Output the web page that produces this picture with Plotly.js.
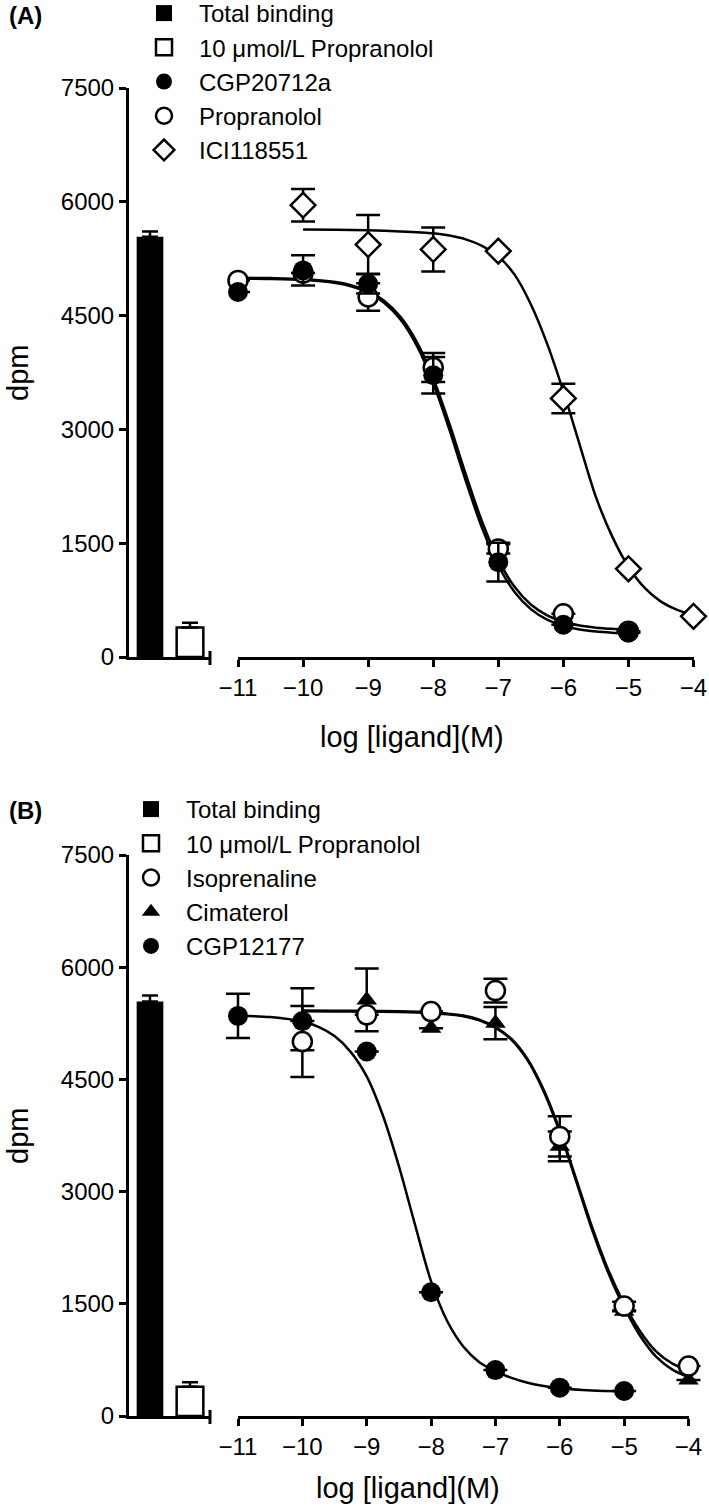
<!DOCTYPE html>
<html><head><meta charset="utf-8">
<script src="https://cdn.plot.ly/plotly-3.0.1.min.js"></script>
<style>html,body{margin:0;padding:0;background:#fff}</style>
</head><body><div id="chart" style="width:709px;height:1509px"></div>
<script>
// ---------------- DATA ----------------
const barCategories = ['Total binding', '10 \u03bcmol/L Propranolol'];
const logTicks = [-11, -10, -9, -8, -7, -6, -5, -4];

// Panel A
const barValuesA = [5540, 390];
const barErrorsA = [70, 60];
const dosesA1 = [-11, -10, -9, -8, -7, -6, -5];
const cgp20712aA = [4811, 5096, 4920, 3714, 1250, 425, 320];
const cgp20712aErrA = [0, 200, 130, 240, 255, 0, 0];
const propranololA = [4964, 5060, 4745, 3816, 1425, 570, 340];
const propranololErrA = [0, 0, 180, 190, 60, 0, 0];
const dosesA2 = [-10, -9, -8, -7, -6, -5, -4];
const ici118551A = [5955, 5436, 5372, 5350, 3408, 1162, 537];
const ici118551ErrA = [215, 390, 290, 0, 195, 0, 0];
// fitted curves
const curveXA1 = [-11,-10.5,-10,-9.5,-9.25,-9,-8.75,-8.5,-8.25,-8,-7.75,-7.5,-7.25,-7,-6.75,-6.5,-6.25,-6,-5.75,-5.5,-5.25,-5];
const curveCgpA = [4988,4984,4971,4929,4883,4802,4666,4444,4099,3610,2993,2323,1702,1207,857,631,492,410,362,335,320,311];
const curvePropA = [4998,4994,4982,4942,4898,4822,4693,4480,4149,3676,3072,2409,1786,1284,926,692,549,464,415,387,371,362];
const curveXA2 = [-10,-9.5,-9,-8.5,-8,-7.75,-7.5,-7.25,-7,-6.75,-6.5,-6.25,-6,-5.75,-5.5,-5.25,-5,-4.75,-4.5,-4.25,-4];
const curveIciA = [5635,5632,5625,5610,5585,5555,5505,5420,5280,5040,4650,4130,3500,2800,2110,1590,1190,910,730,620,550];

// Panel B
const barValuesB = [5540, 390];
const barErrorsB = [80, 60];
const dosesB1 = [-11, -10, -9, -8, -7, -6, -5];
const cgp12177B = [5349, 5280, 4873, 1655, 614, 379, 334];
const cgp12177ErrB = [295, 0, 0, 0, 0, 0, 0];
const dosesB2 = [-10, -9, -8, -7, -6, -5, -4];
const isoprenalineB = [5006, 5363, 5407, 5687, 3738, 1469, 667];
const isoprenalineErrB = [475, 0, 0, 160, 270, 60, 0];
const cimaterolB = [5305, 5563, 5185, 5252, 3605, 1400, 480];
const cimaterolErrB = [414, 420, 0, 215, 200, 0, 0];
const curveXB1 = [-11,-10.5,-10,-9.75,-9.5,-9.25,-9,-8.75,-8.5,-8.25,-8,-7.75,-7.5,-7.25,-7,-6.75,-6.5,-6.25,-6,-5.5,-5];
const curveCgpB = [5352,5334,5273,5202,5079,4868,4540,4020,3340,2560,1800,1270,930,720,600,510,445,400,370,342,332];
const curveXB2 = [-10,-9.5,-9,-8.5,-8,-7.75,-7.5,-7.25,-7,-6.75,-6.5,-6.25,-6,-5.75,-5.5,-5.25,-5,-4.75,-4.5,-4.25,-4];
const curveIsoB = [5420,5419,5416,5410,5395,5380,5355,5300,5200,5040,4770,4360,3820,3180,2530,1960,1500,1130,860,700,610];
const curveCimB = [5410,5409,5406,5400,5385,5370,5345,5290,5190,5030,4755,4340,3795,3150,2495,1920,1450,1070,790,620,520];

// ---------------- LAYOUT HELPERS ----------------
const W = 709, H = 1509;
const FONT = 'Liberation Sans, Arial, Helvetica, sans-serif';
const BLK = '#000';
function xd(a, b) { return [a / W, b / W]; }
function yd(top, bottom) { return [1 - bottom / H, 1 - top / H]; }
function py(p) { return 1 - p / H; }

function barTrace(i, vals, errs, xa, ya) {
  const filled = i === 0;
  return {
    type: 'bar', name: barCategories[i], x: [barCategories[i]], y: [vals[i]],
    xaxis: xa, yaxis: ya, showlegend: false, width: 0.667,
    marker: { color: filled ? BLK : '#fff', line: { color: BLK, width: filled ? 0 : 2.5 } },
    error_y: { type: 'data', symmetric: false, array: [errs[i]], arrayminus: [0], color: BLK, thickness: 2.5, width: 8 },
    hoverinfo: 'skip'
  };
}
// legend entries for the two bars (square keys, like the original figure)
function barKey(i, xa, ya, leg) {
  const filled = i === 0;
  return { type: 'scatter', mode: 'markers', name: barCategories[i], x: [null], y: [null], xaxis: xa, yaxis: ya,
    legend: leg, legendrank: i + 1, hoverinfo: 'skip',
    marker: { symbol: 'square', size: 16, color: filled ? BLK : '#fff', line: { color: BLK, width: filled ? 0 : 2.5 } } };
}
function curve(x, y, xa, ya) {
  return { type: 'scatter', mode: 'lines', x: x, y: y, xaxis: xa, yaxis: ya, showlegend: false,
    line: { color: BLK, width: 2.5, shape: 'spline', smoothing: 0.8 }, cliponaxis: false, hoverinfo: 'skip' };
}
function pts(name, x, y, err, xa, ya, leg, rank, symbol, filled, size) {
  return { type: 'scatter', mode: 'markers', name: name, x: x, y: y, xaxis: xa, yaxis: ya,
    legend: leg, legendrank: rank, cliponaxis: false, hoverinfo: 'skip',
    error_y: { type: 'data', array: err, visible: true, color: BLK, thickness: 2.5, width: 12 },
    marker: { symbol: symbol, size: size, color: filled ? BLK : '#fff', line: { color: BLK, width: filled ? 0 : 2.5 } } };
}

const data = [
  barTrace(0, barValuesA, barErrorsA, 'x', 'y'),
  barTrace(1, barValuesA, barErrorsA, 'x', 'y'),
  barKey(0, 'x2', 'y', 'legend'),
  barKey(1, 'x2', 'y', 'legend'),
  curve(curveXA1, curvePropA, 'x2', 'y'),
  curve(curveXA1, curveCgpA, 'x2', 'y'),
  curve(curveXA2, curveIciA, 'x2', 'y'),
  pts('Propranolol', dosesA1, propranololA, propranololErrA, 'x2', 'y', 'legend', 4, 'circle', false, 19),
  pts('CGP20712a', dosesA1, cgp20712aA, cgp20712aErrA, 'x2', 'y', 'legend', 3, 'circle', true, 20),
  pts('ICI118551', dosesA2, ici118551A, ici118551ErrA, 'x2', 'y', 'legend', 5, 'diamond', false, 19),

  barTrace(0, barValuesB, barErrorsB, 'x3', 'y2'),
  barTrace(1, barValuesB, barErrorsB, 'x3', 'y2'),
  barKey(0, 'x4', 'y2', 'legend2'),
  barKey(1, 'x4', 'y2', 'legend2'),
  curve(curveXB1, curveCgpB, 'x4', 'y2'),
  curve(curveXB2, curveCimB, 'x4', 'y2'),
  curve(curveXB2, curveIsoB, 'x4', 'y2'),
  // points of panel B use a hidden twin of the log axis (same scale, wider clip area)
  pts('CGP12177', dosesB1, cgp12177B, cgp12177ErrB, 'x5', 'y2', 'legend2', 5, 'circle', true, 20),
  pts('Cimaterol', dosesB2, cimaterolB, cimaterolErrB, 'x5', 'y2', 'legend2', 4, 'triangle-up', true, 18),
  pts('Isoprenaline', dosesB2, isoprenalineB, isoprenalineErrB, 'x5', 'y2', 'legend2', 3, 'circle', false, 19)
];

function barAxis(dom, anchor) {
  return { domain: dom, anchor: anchor, type: 'category', range: [-0.525, 1.5], showline: true, linewidth: 3,
    linecolor: BLK, ticks: '', showticklabels: false, showgrid: false, zeroline: false, fixedrange: true };
}
function yAxis(dom, anchor) {
  return { domain: dom, anchor: anchor, range: [0, 7500], tick0: 0, dtick: 1500, ticks: 'outside', ticklen: 7,
    tickwidth: 3, tickcolor: BLK, showline: true, linewidth: 3, linecolor: BLK, showgrid: false, zeroline: false,
    tickfont: { size: 24, color: BLK, family: FONT }, fixedrange: true };
}
function logAxis(dom, anchor) {
  return { domain: dom, anchor: anchor, range: [-11, -4], tickmode: 'array', tickvals: logTicks, ticks: 'outside',
    ticklen: 7, tickwidth: 3, tickcolor: BLK, showline: true, linewidth: 3, linecolor: BLK, showgrid: false,
    zeroline: false, tickfont: { size: 24, color: BLK, family: FONT }, fixedrange: true };
}
function ann(text, xpx, ypx, size, extra) {
  return Object.assign({ text: text, x: xpx / W, y: py(ypx), xref: 'paper', yref: 'paper', showarrow: false,
    xanchor: 'center', yanchor: 'middle', font: { size: size, color: BLK, family: FONT } }, extra || {});
}
function legendCfg(xpx, ypx) {
  return { x: xpx / W, xanchor: 'left', y: py(ypx), yanchor: 'top', bgcolor: 'rgba(0,0,0,0)', borderwidth: 0,
    font: { size: 24, color: BLK, family: FONT }, itemwidth: 60, tracegroupgap: 0, traceorder: 'normal' };
}

// panel B log axis geometry (px) and its hidden twin with padding on both sides
const bLeft = 238, bRight = 688.5, bPerDecade = (bRight - bLeft) / 7;
const padL = 0.5, padR = 0.3;

const layout = {
  width: W, height: H, margin: { l: 0, r: 0, t: 0, b: 0, autoexpand: false },
  paper_bgcolor: '#fff', plot_bgcolor: 'rgba(0,0,0,0)',
  font: { family: FONT, color: BLK }, barmode: 'overlay', showlegend: true, hovermode: false,
  xaxis: barAxis(xd(129, 210), 'y'),
  yaxis: yAxis(yd(88, 657), 'x'),
  xaxis2: logAxis(xd(238, 693.5), 'y'),
  xaxis3: barAxis(xd(129, 210), 'y2'),
  yaxis2: yAxis(yd(855, 1416), 'x3'),
  xaxis4: logAxis(xd(bLeft, bRight), 'y2'),
  xaxis5: { domain: xd(bLeft - padL * bPerDecade, bRight + padR * bPerDecade), anchor: 'y2',
    range: [-11 - padL, -4 + padR], visible: false, fixedrange: true },
  legend: legendCfg(129, -9),
  legend2: legendCfg(116, 787),
  annotations: [
    ann('<b>(A)</b>', 7, 15, 24, { xanchor: 'left' }),
    ann('dpm', 18, 373, 29, { textangle: -90 }),
    ann('log [ligand](M)', 412, 737, 29),
    ann('<b>(B)</b>', 7, 810, 24, { xanchor: 'left' }),
    ann('dpm', 18, 1136, 29, { textangle: -90 }),
    ann('log [ligand](M)', 408, 1488, 29)
  ],
  shapes: [
    { type: 'line', xref: 'x domain', x0: 1, x1: 1, yref: 'paper', y0: py(651), y1: py(665), line: { color: BLK, width: 3 } },
    { type: 'line', xref: 'x3 domain', x0: 1, x1: 1, yref: 'paper', y0: py(1410), y1: py(1424), line: { color: BLK, width: 3 } }
  ]
};

Plotly.newPlot('chart', data, layout, { staticPlot: true, displayModeBar: false });
</script></body></html>
